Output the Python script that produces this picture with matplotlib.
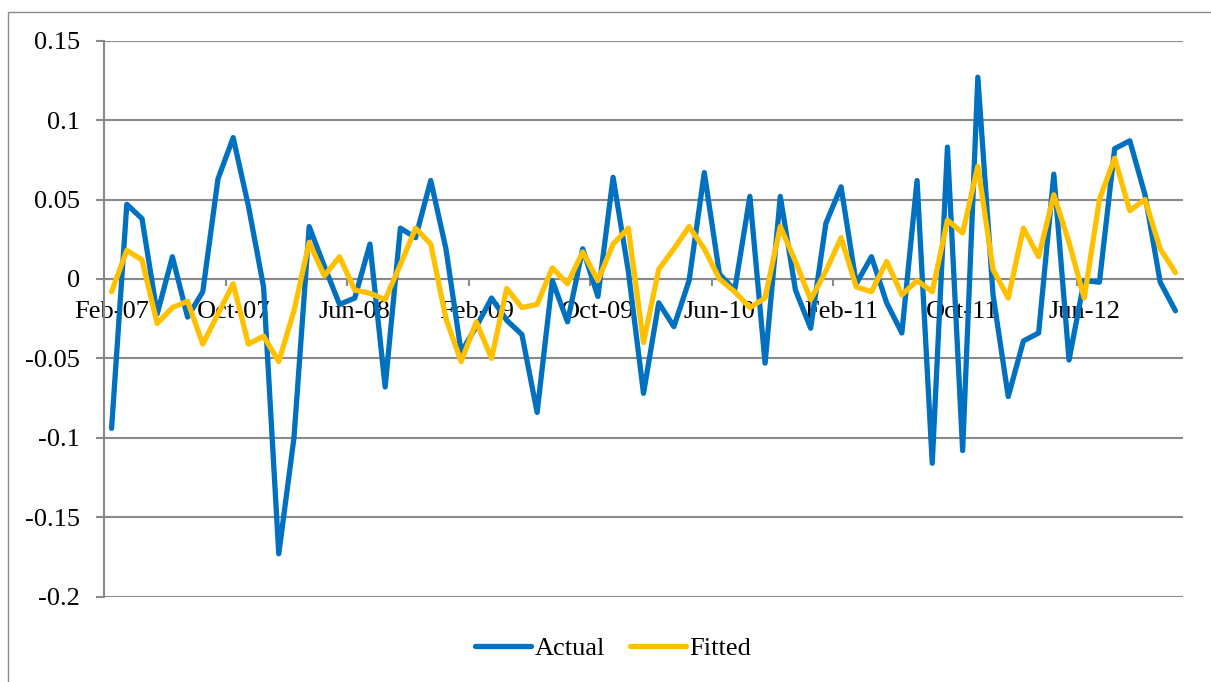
import matplotlib
matplotlib.use("Agg")
import matplotlib.pyplot as plt
from matplotlib.patches import Rectangle

# monthly values, Feb-07 .. Dec-12
actual = [-0.094, 0.047, 0.038, -0.022, 0.014, -0.024, -0.008, 0.063, 0.089, 0.046,
          -0.005, -0.173, -0.100, 0.033, 0.008, -0.016, -0.012, 0.022, -0.068, 0.032,
          0.026, 0.062, 0.019, -0.046, -0.030, -0.012, -0.026, -0.035, -0.084, -0.001,
          -0.027, 0.019, -0.011, 0.064, 0.005, -0.072, -0.015, -0.030, -0.001, 0.067,
          0.003, -0.007, 0.052, -0.053, 0.052, -0.007, -0.031, 0.035, 0.058, -0.003,
          0.014, -0.015, -0.034, 0.062, -0.116, 0.083, -0.108, 0.127, -0.010, -0.074,
          -0.039, -0.034, 0.066, -0.051, -0.001, -0.002, 0.082, 0.087, 0.053, -0.002,
          -0.020]
fitted = [-0.008, 0.018, 0.012, -0.028, -0.018, -0.014, -0.041, -0.022, -0.003, -0.041,
          -0.036, -0.052, -0.020, 0.023, 0.002, 0.014, -0.007, -0.009, -0.013, 0.009,
          0.032, 0.022, -0.025, -0.052, -0.027, -0.050, -0.006, -0.018, -0.016, 0.007,
          -0.003, 0.017, -0.001, 0.022, 0.032, -0.040, 0.006, 0.019, 0.033, 0.019,
          0.000, -0.008, -0.018, -0.012, 0.033, 0.011, -0.013, 0.005, 0.026, -0.005,
          -0.008, 0.011, -0.010, -0.001, -0.008, 0.037, 0.029, 0.071, 0.006, -0.012,
          0.032, 0.014, 0.053, 0.023, -0.012, 0.050, 0.076, 0.043, 0.050, 0.019,
          0.004]

x_labels = ['Feb-07', 'Oct-07', 'Jun-08', 'Feb-09', 'Oct-09', 'Jun-10',
            'Feb-11', 'Oct-11', 'Jun-12']
y_ticks = [0.15, 0.1, 0.05, 0, -0.05, -0.1, -0.15, -0.2]
y_labels = ['0.15', '0.1', '0.05', '0', '-0.05', '-0.1', '-0.15', '-0.2']

plt.rcParams['font.family'] = ['Liberation Serif', 'DejaVu Serif']
grey = '#898989'
fs = 19

fig = plt.figure(figsize=(12.11, 6.82), dpi=100)
ax = fig.add_axes([104 / 1211, 1 - 596.7 / 682, (1183 - 104) / 1211, (596.7 - 40.7) / 682])

# chart-area border (right/bottom run off the image)
fig.patches.append(Rectangle((8 / 1211, -0.05), 1.2, 1 - 12 / 682 + 0.05,
                             transform=fig.transFigure, fill=False,
                             edgecolor=grey, lw=1.0))

# spines first: moving the spine resets the tick settings
for s in ['top', 'right']:
    ax.spines[s].set_visible(False)
ax.spines['bottom'].set_position(('data', 0))
for s in ['left', 'bottom']:
    ax.spines[s].set_color(grey)
    ax.spines[s].set_linewidth(1.5)

n = len(actual)
xs = list(range(n))
ax.plot(xs, actual, color='#0070C0', lw=3.8, solid_joinstyle='round',
        solid_capstyle='round', label='Actual', zorder=3)
ax.plot(xs, fitted, color='#FFC000', lw=3.8, solid_joinstyle='round',
        solid_capstyle='round', label='Fitted', zorder=4)

ax.set_xlim(-0.5, n - 0.5)
ax.set_ylim(-0.2, 0.15)

ax.set_yticks(y_ticks)
ax.set_yticklabels(y_labels)
ax.yaxis.grid(True, color=grey, lw=1.5)
ax.set_axisbelow(True)
ax.tick_params(axis='y', length=6, width=1.5, color=grey, pad=11.5, labelsize=fs)

ax.set_xticks(range(0, n, 8))
ax.set_xticklabels(x_labels)
ax.set_xticks([i - 0.5 for i in range(8, n, 8)], minor=True)
ax.tick_params(axis='x', which='major', length=0, pad=15.5, labelsize=fs)
ax.tick_params(axis='x', which='minor', length=5, width=1.5, color=grey)

fig.legend(loc='center', bbox_to_anchor=(613.5 / 1211, 1 - 648 / 682), ncol=2,
           frameon=False, fontsize=fs, handlelength=2.1, handletextpad=0.15,
           columnspacing=0.95)

fig.savefig('out.png', dpi=100)
